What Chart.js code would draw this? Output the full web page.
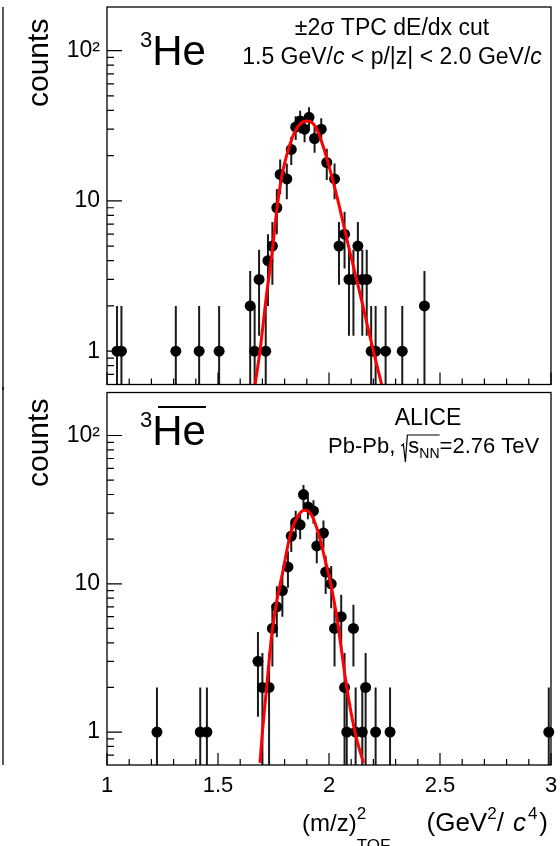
<!DOCTYPE html>
<html>
<head>
<meta charset="utf-8">
<script src="https://cdn.jsdelivr.net/npm/chart.js@4"></script>
<style>
  html, body { margin: 0; padding: 0; background: #fff; }
  #wrap { position: relative; width: 560px; height: 846px; overflow: hidden; }
  canvas { position: absolute; left: 0; }
  #cTop { top: 0; }
  #cBot { top: 387px; }
</style>
</head>
<body>
<div id="wrap">
  <canvas id="cTop" width="560" height="390"></canvas>
  <canvas id="cBot" width="560" height="459"></canvas>
</div>
<script>
const FONT = '"Liberation Sans", Arial, Helvetica, sans-serif';

// 3He, counts per (m/z)^2 bin
const heX      = [1.045, 1.065, 1.31, 1.415, 1.505, 1.645, 1.665, 1.685, 1.715, 1.725, 1.745, 1.765, 1.78, 1.81, 1.83, 1.85, 1.87, 1.89, 1.91, 1.935, 1.965, 1.99, 2.025, 2.045, 2.07, 2.09, 2.11, 2.13, 2.15, 2.17, 2.19, 2.21, 2.255, 2.33, 2.43];
const heCounts = [1, 1, 1, 1, 1, 2, 1, 3, 1, 4, 5, 9, 15, 14, 22, 31, 34, 30, 36, 26, 30, 18, 14, 5, 6, 3, 3, 5, 3, 3, 1, 1, 1, 1, 2];
// fit curve
const heFitX = [1.667, 1.689, 1.719, 1.742, 1.764, 1.787, 1.817, 1.847, 1.875, 1.9, 1.925, 1.945, 1.974, 2.005, 2.042, 2.072, 2.095, 2.132, 2.17, 2.2, 2.237];
const heFitY = [0.6, 1.0, 2.4, 4.3, 8.5, 14.5, 22, 29, 33, 34, 33, 30, 23, 16, 9.8, 6.3, 4.5, 2.7, 1.55, 1.0, 0.6];

// anti-3He
const antiX      = [1.225, 1.42, 1.45, 1.68, 1.70, 1.73, 1.745, 1.765, 1.79, 1.815, 1.83, 1.85, 1.87, 1.885, 1.905, 1.93, 1.945, 1.975, 1.985, 2.01, 2.025, 2.055, 2.07, 2.08, 2.11, 2.12, 2.15, 2.165, 2.21, 2.275, 2.99];
const antiCounts = [1, 1, 1, 3, 2, 2, 5, 7, 9, 13, 21, 26, 25, 40, 33, 31, 18, 22, 12, 10, 5, 6, 2, 1, 5, 1, 1, 2, 1, 1, 1];
const antiFitX = [1.689, 1.70, 1.719, 1.742, 1.764, 1.794, 1.824, 1.862, 1.892, 1.922, 1.952, 1.982, 2.012, 2.035, 2.08, 2.117, 2.155];
const antiFitY = [0.62, 1.0, 2.0, 4.5, 7.5, 12.5, 21, 29, 31.5, 29, 22, 14.6, 9.3, 6.0, 2.0, 1.0, 0.62];

const yMajor = [1, 10, 100];
const yMinor = [0.7, 0.8, 0.9, 2, 3, 4, 5, 6, 7, 8, 9, 20, 30, 40, 50, 60, 70, 80, 90];
const xTickStep = 0.5;
const xMinorStep = 0.1;

function pts(xs, ys) { return xs.map((x, i) => ({ x: x, y: ys[i] })); }

// draw a run of text pieces; each piece {t, size, italic, dy, stack, gap}
function rich(ctx, parts, x, y, align) {
  const fontOf = p => (p.italic ? 'italic ' : '') + p.size + 'px ' + FONT;
  const w = parts.map(p => {
    if (p.gap) return p.gap;
    if (p.stack) return Math.max(...p.stack.map(s => { ctx.font = fontOf(s); return ctx.measureText(s.t).width; }));
    ctx.font = fontOf(p); return ctx.measureText(p.t).width;
  });
  const total = w.reduce((a, b) => a + b, 0);
  let cx = align === 'right' ? x - total : align === 'center' ? x - total / 2 : x;
  ctx.textAlign = 'left';
  ctx.textBaseline = 'alphabetic';
  parts.forEach((p, i) => {
    if (!p.gap) {
      const list = p.stack || [p];
      list.forEach(s => { ctx.font = fontOf(s); ctx.fillText(s.t, cx, y + (s.dy || 0)); });
    }
    cx += w[i];
  });
  return cx;
}

const errorBars = {
  id: 'errorBars',
  beforeDatasetsDraw(chart) {
    const { ctx, chartArea: a, scales: { x, y } } = chart;
    const ds = chart.data.datasets[1].data;
    ctx.save();
    ctx.beginPath();
    ctx.rect(a.left, a.top, a.right - a.left, a.bottom - a.top);
    ctx.clip();
    ctx.strokeStyle = '#1a1a1a';
    ctx.lineWidth = 2;
    ds.forEach(p => {
      const e = Math.sqrt(p.y);
      const px = x.getPixelForValue(p.x);
      const top = y.getPixelForValue(p.y + e);
      const bot = p.y - e > 0 ? y.getPixelForValue(p.y - e) : a.bottom;
      ctx.beginPath();
      ctx.moveTo(px, top);
      ctx.lineTo(px, bot);
      ctx.stroke();
    });
    ctx.restore();
  }
};

const frameTicks = {
  id: 'frameTicks',
  afterDatasetsDraw(chart) {
    const { ctx, chartArea: a, scales: { x, y } } = chart;
    ctx.save();
    ctx.strokeStyle = '#000';
    ctx.lineWidth = 1.3;
    ctx.strokeRect(a.left, a.top, a.right - a.left, a.bottom - a.top);
    ctx.lineWidth = 1.2;
    ctx.beginPath();
    for (let v = x.min; v <= x.max + 1e-9; v += xMinorStep) {
      const px = x.getPixelForValue(v);
      const major = Math.abs(v / xTickStep - Math.round(v / xTickStep)) < 1e-6;
      ctx.moveTo(px, a.bottom);
      ctx.lineTo(px, a.bottom - (major ? 12 : 6));
    }
    yMajor.concat(yMinor).forEach(v => {
      if (v < y.min || v > y.max) return;
      const py = y.getPixelForValue(v);
      ctx.moveTo(a.left, py);
      ctx.lineTo(a.left + (yMajor.includes(v) ? 15 : 7), py);
    });
    ctx.stroke();
    ctx.restore();
  }
};

function countsLabel(ctx, bottomY) {
  ctx.save();
  ctx.fillStyle = '#000';
  ctx.font = '30px ' + FONT;
  ctx.translate(48, bottomY);
  ctx.rotate(-Math.PI / 2);
  ctx.textAlign = 'left';
  ctx.textBaseline = 'alphabetic';
  ctx.fillText('counts', 0, 0);
  ctx.restore();
}

function sliver(ctx, y0, y1) {
  ctx.save();
  ctx.strokeStyle = '#000';
  ctx.lineWidth = 1.3;
  ctx.beginPath();
  ctx.moveTo(3, y0);
  ctx.lineTo(3, y1);
  ctx.stroke();
  ctx.restore();
}

const topText = {
  id: 'topText',
  afterDraw(chart) {
    const ctx = chart.ctx;
    ctx.save();
    ctx.fillStyle = '#000';
    countsLabel(ctx, 107);
    sliver(ctx, 7, 390);
    rich(ctx, [{ t: '3', size: 22, dy: -18 }, { t: 'He', size: 42 }], 140, 65, 'left');
    rich(ctx, [{ t: '\u00b12\u03c3 TPC dE/dx cut', size: 23 }], 392, 35, 'center');
    rich(ctx, [
      { t: '1.5 GeV/', size: 23 }, { t: 'c', size: 23, italic: true },
      { t: ' < p/|z| < 2.0 GeV/', size: 23 }, { t: 'c', size: 23, italic: true }
    ], 392, 64, 'center');
    ctx.restore();
  }
};

const botText = {
  id: 'botText',
  afterDraw(chart) {
    const ctx = chart.ctx;
    ctx.save();
    ctx.fillStyle = '#000';
    countsLabel(ctx, 100);
    sliver(ctx, 0, 378);
    const end = rich(ctx, [{ t: '3', size: 22, dy: -18 }, { t: 'He', size: 42 }], 140, 58, 'left');
    ctx.fillRect(158, 19, end - 158, 2);
    rich(ctx, [{ t: 'ALICE', size: 23 }], 428, 38, 'center');
    // Pb-Pb, sqrt(s_NN) = 2.76 TeV
    const base = 66;
    let cx = rich(ctx, [{ t: 'Pb-Pb, ', size: 22 }], 328, base, 'left');
    const rx = cx;
    cx += 7;
    cx = rich(ctx, [{ t: 's', size: 22 }, { t: 'NN', size: 14, dy: 5 }], cx, base, 'left');
    ctx.strokeStyle = '#000';
    ctx.lineWidth = 1.2;
    ctx.beginPath();
    ctx.moveTo(rx, base - 7);
    ctx.lineTo(rx + 2, base - 9);
    ctx.lineTo(rx + 4, base + 9);
    ctx.lineTo(rx + 6, base - 18);
    ctx.lineTo(cx, base - 18);
    ctx.stroke();
    rich(ctx, [{ t: '=2.76 TeV', size: 22 }], cx, base, 'left');
    // x title
    rich(ctx, [
      { t: '(m/z)', size: 24 },
      { stack: [{ t: '2', size: 17, dy: -12 }, { t: 'TOF', size: 17, dy: 20 }] }
    ], 302, 444, 'left');
    rich(ctx, [
      { t: '(GeV', size: 26 }, { t: '2', size: 17, dy: -12 },
      { t: '/', size: 26 }, { gap: 9 }, { t: 'c', size: 26, italic: true },
      { gap: 2 }, { t: '4', size: 17, dy: -12 }, { gap: 2 }, { t: ')', size: 26 }
    ], 548, 444, 'right');
    ctx.restore();
  }
};

function makeChart(id, points, fitX, fitY, showX, xHeight, padTop, textPlugin) {
  return new Chart(document.getElementById(id), {
    type: 'scatter',
    data: {
      datasets: [{
        data: pts(fitX, fitY),
        showLine: true,
        borderColor: '#ff0000',
        borderWidth: 3,
        pointRadius: 0,
        cubicInterpolationMode: 'monotone'
      }, {
        data: points,
        showLine: false,
        clip: false,
        pointRadius: 5.5,
        pointHoverRadius: 5.5,
        pointBackgroundColor: '#000',
        pointBorderWidth: 0
      }]
    },
    options: {
      responsive: false,
      animation: false,
      layout: { padding: { top: padTop, right: 9, left: 0, bottom: 0 } },
      plugins: { legend: { display: false }, tooltip: { enabled: false } },
      scales: {
        x: {
          type: 'linear', min: 1, max: 3,
          grid: { display: false, drawTicks: false },
          border: { display: false },
          ticks: {
            display: showX, stepSize: xTickStep, padding: 8, color: '#000',
            font: { family: FONT, size: 22 },
            callback: v => String(v)
          },
          afterFit: s => { s.height = xHeight; s.paddingLeft = 0; s.paddingRight = 0; }
        },
        y: {
          type: 'logarithmic', min: 0.6, max: 195,
          grid: { display: false, drawTicks: false },
          border: { display: false },
          afterBuildTicks: s => { s.ticks = yMajor.map(v => ({ value: v })); },
          ticks: {
            padding: 7, color: '#000', autoSkip: false,
            font: { family: FONT, size: 23 },
            callback: v => (v === 100 ? '10\u00b2' : String(v))
          },
          afterFit: s => { s.width = 107; s.paddingTop = 0; s.paddingBottom = 0; }
        }
      }
    },
    plugins: [errorBars, frameTicks, textPlugin]
  });
}

makeChart('cTop', pts(heX, heCounts), heFitX, heFitY, false, 3, 7, topText);
makeChart('cBot', pts(antiX, antiCounts), antiFitX, antiFitY, true, 81, 0, botText);
</script>
</body>
</html>
